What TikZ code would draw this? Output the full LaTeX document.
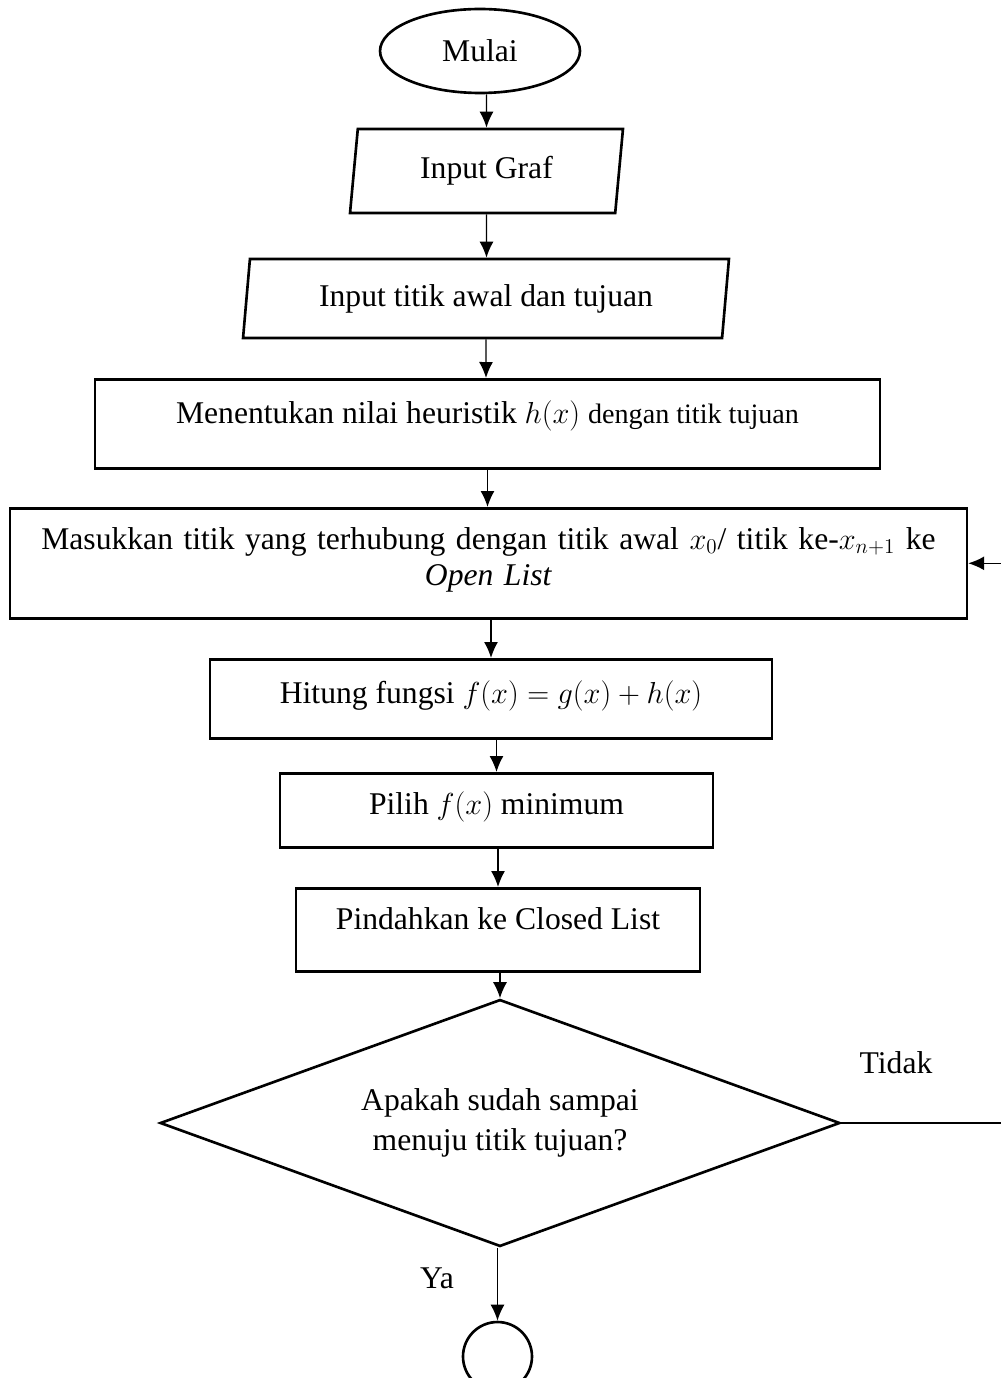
\documentclass[tikz,border=0pt]{standalone}
\usepackage{fontspec}
\setmainfont{Liberation Serif}
\usetikzlibrary{shapes.geometric,arrows.meta,positioning}

\begin{document}
\begin{tikzpicture}[
    x=0.02cm, y=-0.02cm,
    font=\fontsize{18}{20.5}\selectfont,
    terminal/.style={ellipse, draw, line width=1.5pt, inner sep=0pt},
    io/.style={trapezium, draw, line width=1.5pt, trapezium stretches body, inner sep=0pt},
    process/.style={rectangle, draw, line width=1.5pt, inner sep=0pt, anchor=north, align=center},
    decision/.style={diamond, draw, line width=1.5pt, inner sep=0pt, align=center, aspect=2.75},
    arrow/.style={-{Latex[length=0.32cm,width=0.28cm]}, line width=0.8pt},
    note/.style={inner sep=0pt}
]
    \useasboundingbox (0,0) rectangle (1000,1378);

    \node[terminal, minimum width=4cm, minimum height=1.68cm] (start) at (480,51) {Mulai};
    \node[io, trapezium left angle=75, trapezium right angle=105, minimum width=5.46cm, minimum height=1.68cm] (graf) at (486.5,171) {Input Graf};
    \node[io, trapezium left angle=76.5, trapezium right angle=103.5, minimum width=9.72cm, minimum height=1.58cm] (awal) at (486,298.5) {Input titik awal dan tujuan};
    \node[process, minimum width=15.7cm, text height=0.88cm, text depth=0.9cm] (heur) at (487.5,378)
        {Menentukan nilai heuristik $h(x)$ {\fontsize{16}{18}\selectfont dengan titik tujuan}};
    \node[process, text width=18.9cm, inner xsep=0.12cm, text height=0.82cm, text depth=1.38cm] (openl) at (488.5,507)
        {Masukkan titik yang terhubung dengan titik awal $x_0$/ titik ke-$x_{n+1}$ ke\\ \textit{Open List}};
    \node[process, minimum width=11.24cm, text height=0.88cm, text depth=0.7cm] (hitung) at (491,658)
        {Hitung fungsi $f(x) = g(x) + h(x)$};
    \node[process, minimum width=8.66cm, text height=0.82cm, text depth=0.66cm] (pilih) at (496.5,772)
        {Pilih $f(x)$ minimum};
    \node[process, minimum width=8.08cm, text height=0.82cm, text depth=0.84cm] (pindah) at (498,887)
        {Pindahkan ke Closed List};
    \node[decision, minimum width=13.6cm, minimum height=4.94cm, font=\fontsize{18}{22.8}\selectfont] (cek) at (500,1123)
        {Apakah sudah sampai\\menuju titik tujuan?};
    \node[circle, draw, line width=1.5pt, minimum size=1.38cm, inner sep=0pt] (stop) at (497.5,1356.5) {};

    \node[note] (ya) at (437,1278) {Ya};
    \node[note] (tidak) at (896,1063) {Tidak};
    \coordinate (back) at (1003,1123);

    \draw[arrow] (graf |- start.south) -- (graf);
    \draw[arrow] (graf) -- (graf |- awal.north);
    \draw[arrow] (awal) -- (awal |- heur.north);
    \draw[arrow] (heur) -- (heur |- openl.north);
    \draw[arrow] (hitung |- openl.south) -- (hitung);
    \draw[arrow] (pilih |- hitung.south) -- (pilih);
    \draw[arrow] (pindah |- pilih.south) -- (pindah);
    \draw[arrow] (cek |- pindah.south) -- (cek.north);
    \draw[arrow] (stop |- cek.south) -- (stop);
    \draw[arrow] (cek.east) -- (back) |- (openl.east);
\end{tikzpicture}
\end{document}
